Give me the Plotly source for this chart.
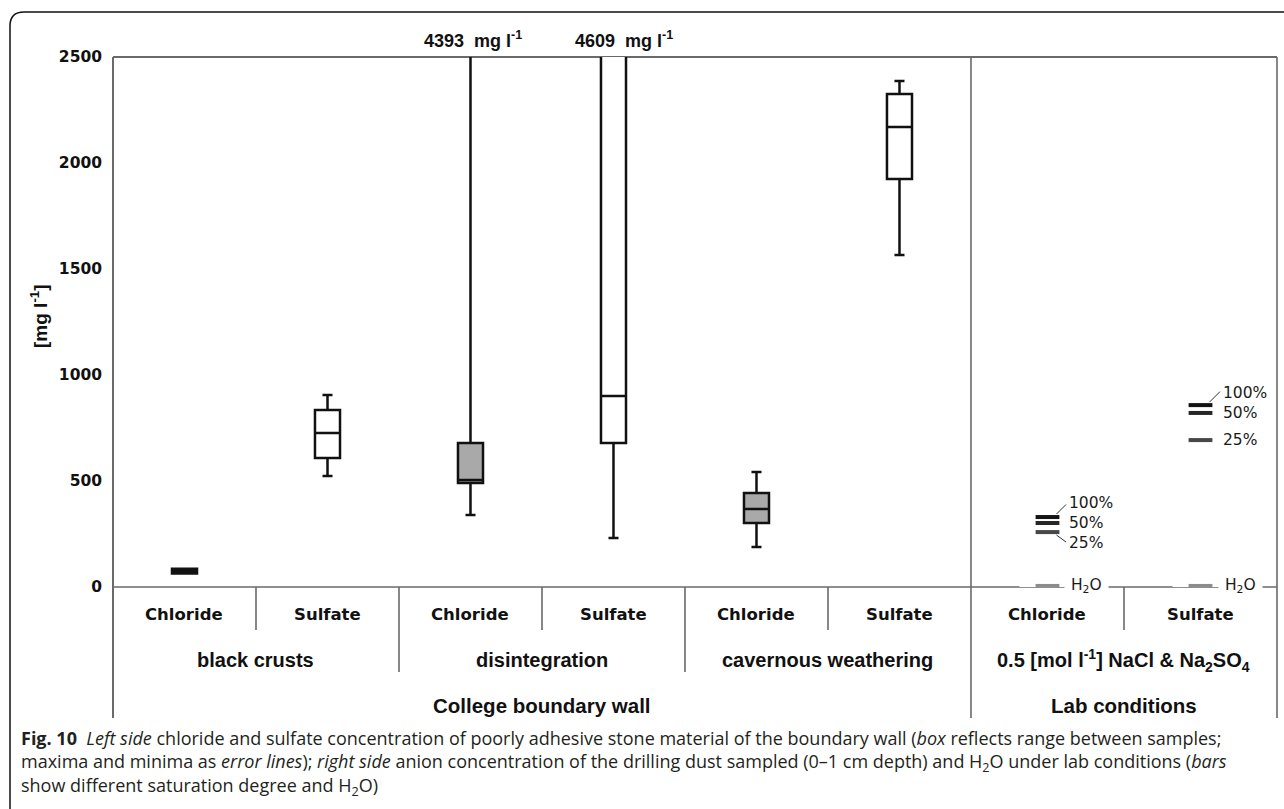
import plotly.graph_objects as go

# ---------------- data ----------------
groups = ["black crusts", "disintegration", "cavernous weathering"]
anions = ["Chloride", "Sulfate"]
# one box per (group, anion): black crusts Cl, SO4, disintegration Cl, SO4, cavernous Cl, SO4
box_lower = [64, 524, 340, 231, 189, 1566]
box_q1 = [64, 608, 490, 679, 302, 1925]
box_median = [76, 726, 505, 901, 368, 2170]
box_q3 = [86, 835, 679, 2900, 443, 2325]
box_upper = [86, 906, 4393, 4609, 542, 2387]
box_fill = ["#111111", "white", "#a9a9a9", "white", "#a9a9a9", "white"]

lab_group = "0.5 [mol l<sup>-1</sup>] NaCl &amp; Na<sub>2</sub>SO<sub>4</sub>"
lab_levels = ["100%", "50%", "25%", "H<sub>2</sub>O"]
lab_chloride = [330, 302, 259, 5]
lab_sulfate = [858, 821, 693, 5]
lab_colors = ["#141414", "#262626", "#474747", "#8c8c8c"]

y_ticks = [0, 500, 1000, 1500, 2000, 2500]
top_labels = ["College boundary wall", "Lab conditions"]

# ---------------- geometry ----------------
W, H = 1284, 809
ML, MR, MT, MB = 113, 7, 57, 222
PW = W - ML - MR
PH = H - MT - MB
LAB_W = 1.07
XMAX = 6 + 2 * LAB_W
YMAX = 2500


def px(xpix):
    return (xpix - ML) / PW


def py(ypix):
    return (H - MB - ypix) / PH


def xp(xdata):
    return xdata / XMAX


field_centers = [i + 0.5 for i in range(6)]
lab_centers = [6 + LAB_W * (j + 0.5) for j in range(2)]

fig = go.Figure()

for i in range(6):
    fig.add_trace(go.Box(
        x=[field_centers[i]], q1=[box_q1[i]], median=[box_median[i]], q3=[box_q3[i]],
        lowerfence=[box_lower[i]], upperfence=[box_upper[i]],
        width=0.175, whiskerwidth=0.4, fillcolor=box_fill[i],
        line=dict(color="#111111", width=2.5), boxpoints=False,
        showlegend=False, hoverinfo="skip"))

# white underlay behind the H2O dashes (gap in the zero line)
fig.add_trace(go.Scatter(
    x=lab_centers, y=[lab_chloride[3], lab_sulfate[3]], mode="markers",
    marker=dict(symbol="line-ew", size=40, line=dict(color="white", width=8)),
    showlegend=False, hoverinfo="skip"))

for vals, xc in ((lab_chloride, lab_centers[0]), (lab_sulfate, lab_centers[1])):
    fig.add_trace(go.Scatter(
        x=[xc] * len(vals), y=vals, mode="markers",
        marker=dict(symbol="line-ew", size=17, color=lab_colors,
                    line=dict(color=lab_colors, width=4)),
        showlegend=False, hoverinfo="skip"))

# ---------------- lines / frame ----------------
gray = "#6a6a6a"
shapes = []


def vline(xpaper, y0, y1, color=gray, width=1.6):
    shapes.append(dict(type="line", xref="paper", yref="paper", x0=xpaper, x1=xpaper,
                       y0=y0, y1=y1, line=dict(color=color, width=width), layer="below"))


def hline(ypaper, x0, x1, color=gray, width=1.6):
    shapes.append(dict(type="line", xref="paper", yref="paper", x0=x0, x1=x1,
                       y0=ypaper, y1=ypaper, line=dict(color=color, width=width), layer="below"))


hline(1, 0, 1, width=2)
hline(0, 0, 1, width=1.6)
vline(0, py(718), 1, width=2)
vline(1, py(718), 1, width=1.6)
vline(xp(6), py(718), 1, width=1.6)
for k in (1, 3, 5):
    vline(xp(k), py(630), 0)
for k in (2, 4):
    vline(xp(k), py(672), 0)
vline(xp(6 + LAB_W), py(630), 0)

# outer frame with rounded top-left corner
fx0, fy0 = px(10), py(12)
rx, ry = 14 / PW, 14 / PH
shapes.append(dict(type="path", xref="paper", yref="paper",
                   path=f"M {fx0},{py(830)} L {fx0},{fy0 - ry} Q {fx0},{fy0} {fx0 + rx},{fy0} L {px(1300)},{fy0}",
                   line=dict(color="#111111", width=1.5)))

# ---------------- annotations ----------------
ann = []
bold_sans = "DejaVu Sans"
arial = "Liberation Sans"
dark = "#111111"


def label(x, y, text, font, xref="paper", yref="paper", **kw):
    d = dict(x=x, y=y, xref=xref, yref=yref, text=text, showarrow=False, font=font,
             xanchor="center", yanchor="middle")
    d.update(kw)
    ann.append(d)


f_cat = dict(family=bold_sans, size=16.5, color=dark)
f_grp = dict(family=arial, size=20, color=dark)
f_top = dict(family=arial, size=20.5, color=dark)
for i in range(6):
    label(xp(field_centers[i]), py(614), f"<b>{anions[i % 2]}</b>", f_cat)
for j in range(2):
    label(xp(lab_centers[j]), py(614), f"<b>{anions[j]}</b>", f_cat)
for g in range(3):
    label(xp(2 * g + 1), py(660), f"<b>{groups[g]}</b>", f_grp)
label(xp(6 + LAB_W), py(660), f"<b>{lab_group}</b>", f_grp)
label(xp(3), py(705), f"<b>{top_labels[0]}</b>", f_top)
label(xp(6 + LAB_W), py(705), f"<b>{top_labels[1]}</b>", f_top)

# off-scale maxima
for i, dx in ((2, 3), (3, 11)):
    label(field_centers[i], py(40), f"<b>{box_upper[i]}  mg l<sup>-1</sup></b>",
          dict(family=arial, size=18, color=dark), xref="x", xshift=dx)

# y-axis title
label(px(39), py(316), "<b>[mg l<sup>-1</sup>]</b>", dict(family=arial, size=19, color=dark),
      textangle=-90)

# lab level labels
lab_font = dict(family="DejaVu Sans", size=15.5, color="#1a1a1a")
chl_shift = [14, 0, -11, 0]
sul_shift = [12, 0, 0, 0]
for vals, xc, shifts in ((lab_chloride, lab_centers[0], chl_shift),
                         (lab_sulfate, lab_centers[1], sul_shift)):
    for k in range(4):
        is_h2o = k == 3
        label(xc, vals[k], (" " + lab_levels[k] + " ") if is_h2o else lab_levels[k], lab_font,
              xref="x", yref="y", xanchor="left", xshift=20 if not is_h2o else 17,
              yshift=shifts[k], bgcolor="white" if is_h2o else None, borderpad=1)

# leader lines
leaders = [(lab_centers[0], lab_chloride[0], 11, -11),
           (lab_centers[0], lab_chloride[2], 11, 8),
           (lab_centers[1], lab_sulfate[0], 12, -12)]
for xc, v, axp, ayp in leaders:
    ann.append(dict(x=xc, y=v, xref="x", yref="y", xshift=9, yshift=3 if ayp < 0 else -3,
                    text="", showarrow=True, arrowhead=0, arrowwidth=1, arrowcolor="#333333",
                    ax=axp, ay=ayp, standoff=0, startstandoff=0))

# caption (one block, three lines)
cap_font = dict(family="Open Sans", size=18, color="#231f20")
caption = [
    "<b>Fig. 10</b>  <i>Left side</i> chloride and sulfate concentration of poorly adhesive stone material of the boundary wall (<i>box</i> reflects range between samples;",
    "maxima and minima as <i>error lines</i>); <i>right side</i> anion concentration of the drilling dust sampled (0–1 cm depth) and H<sub>2</sub>O under lab conditions (<i>bars</i>",
    "show different saturation degree and H<sub>2</sub>O)",
]
label(px(19), py(763), "<br>".join(caption), cap_font, xanchor="left", align="left")

fig.update_layout(
    width=W, height=H, autosize=False,
    margin=dict(l=ML, r=MR, t=MT, b=MB, pad=0),
    paper_bgcolor="white", plot_bgcolor="white",
    shapes=shapes, annotations=ann,
    xaxis=dict(range=[0, XMAX], showgrid=False, zeroline=False, showline=False,
               showticklabels=False, ticks="", fixedrange=True),
    yaxis=dict(range=[0, YMAX], tickvals=y_ticks, ticktext=[f"<b>{t}</b>" for t in y_ticks],
               showgrid=False, zeroline=False, showline=False, ticks="",
               ticklabelstandoff=10,
               tickfont=dict(family=bold_sans, size=15.5, color=dark), fixedrange=True),
    showlegend=False,
)

fig.write_html("out.html")
